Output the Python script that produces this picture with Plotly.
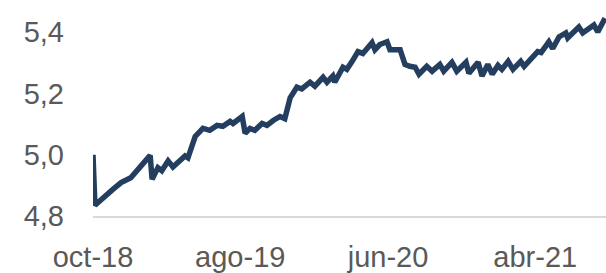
import plotly.graph_objects as go

dates = [
    "2018-10-01", "2018-10-05", "2018-11-11", "2018-11-28", "2018-12-18",
    "2019-01-27", "2019-01-31", "2019-02-12", "2019-02-20", "2019-03-05",
    "2019-03-15", "2019-04-09", "2019-04-15", "2019-04-30", "2019-05-16",
    "2019-05-30", "2019-06-14", "2019-06-26", "2019-07-11", "2019-07-17",
    "2019-08-05", "2019-08-11", "2019-08-21", "2019-08-31", "2019-09-15",
    "2019-09-25", "2019-10-08", "2019-10-22", "2019-11-01", "2019-11-12",
    "2019-11-26", "2019-12-06", "2019-12-23", "2020-01-02", "2020-01-19",
    "2020-01-27", "2020-02-08", "2020-02-12", "2020-02-29", "2020-03-08",
    "2020-03-19", "2020-03-31", "2020-04-10", "2020-04-29", "2020-05-05",
    "2020-05-15", "2020-05-30", "2020-06-05", "2020-06-26", "2020-07-06",
    "2020-07-16", "2020-07-27", "2020-08-04", "2020-08-20", "2020-08-31",
    "2020-09-16", "2020-09-24", "2020-10-11", "2020-10-21", "2020-11-09",
    "2020-11-15", "2020-12-04", "2020-12-12", "2020-12-24", "2021-01-02",
    "2021-01-14", "2021-01-22", "2021-02-04", "2021-02-14", "2021-03-02",
    "2021-03-09", "2021-04-06", "2021-04-13", "2021-04-29", "2021-05-07",
    "2021-05-20", "2021-06-03", "2021-06-07", "2021-06-30", "2021-07-08",
    "2021-07-31", "2021-08-08", "2021-08-23",
]
values = [
    5.000, 4.835, 4.887, 4.909, 4.925,
    4.998, 4.920, 4.958, 4.948, 4.980,
    4.960, 4.996, 4.990, 5.060, 5.086,
    5.080, 5.096, 5.093, 5.109, 5.102,
    5.125, 5.070, 5.086, 5.080, 5.102,
    5.096, 5.112, 5.125, 5.118, 5.186,
    5.221, 5.215, 5.237, 5.224, 5.253,
    5.237, 5.257, 5.237, 5.286, 5.279,
    5.305, 5.337, 5.331, 5.366, 5.343,
    5.360, 5.369, 5.343, 5.343, 5.295,
    5.289, 5.286, 5.263, 5.289, 5.273,
    5.295, 5.273, 5.302, 5.273, 5.302,
    5.266, 5.302, 5.257, 5.295, 5.263,
    5.292, 5.279, 5.305, 5.279, 5.305,
    5.289, 5.337, 5.334, 5.369, 5.347,
    5.385, 5.398, 5.382, 5.417, 5.398,
    5.424, 5.401, 5.446,
]

x_tickvals = ["2018-10-01", "2019-08-01", "2020-06-01", "2021-04-01"]
x_ticktext = ["oct-18", "ago-19", "jun-20", "abr-21"]
y_tickvals = [4.8, 5.0, 5.2, 5.4]
y_ticktext = ["4,8", "5,0", "5,2", "5,4"]

fig = go.Figure()
fig.add_trace(go.Scatter(
    x=dates, y=values, mode="lines",
    line=dict(color="#243E60", width=5.5),
    hoverinfo="skip",
))

font = dict(family="Liberation Sans, Arial, sans-serif", size=29, color="#595959")

fig.update_layout(
    width=606, height=273,
    margin=dict(l=93, r=0, t=17, b=54),
    paper_bgcolor="white", plot_bgcolor="white",
    showlegend=False,
    font=font,
)
fig.update_xaxes(
    type="date",
    range=["2018-10-01", "2021-08-25"],
    tickvals=x_tickvals, ticktext=x_ticktext,
    showgrid=False, zeroline=False,
    showline=True, linecolor="#D9D9D9", linewidth=1.5,
    ticks="", ticklabelstandoff=14,
    tickfont=font,
)
fig.update_yaxes(
    range=[4.8, 5.45],
    tickvals=y_tickvals, ticktext=y_ticktext,
    showgrid=False, zeroline=False, showline=False,
    ticks="", ticklabelstandoff=28,
    tickfont=font,
)

fig.write_html(
    "out.html",
    config={"displayModeBar": False},
    post_script="document.body.style.margin='0';document.body.style.overflow='hidden';",
)
